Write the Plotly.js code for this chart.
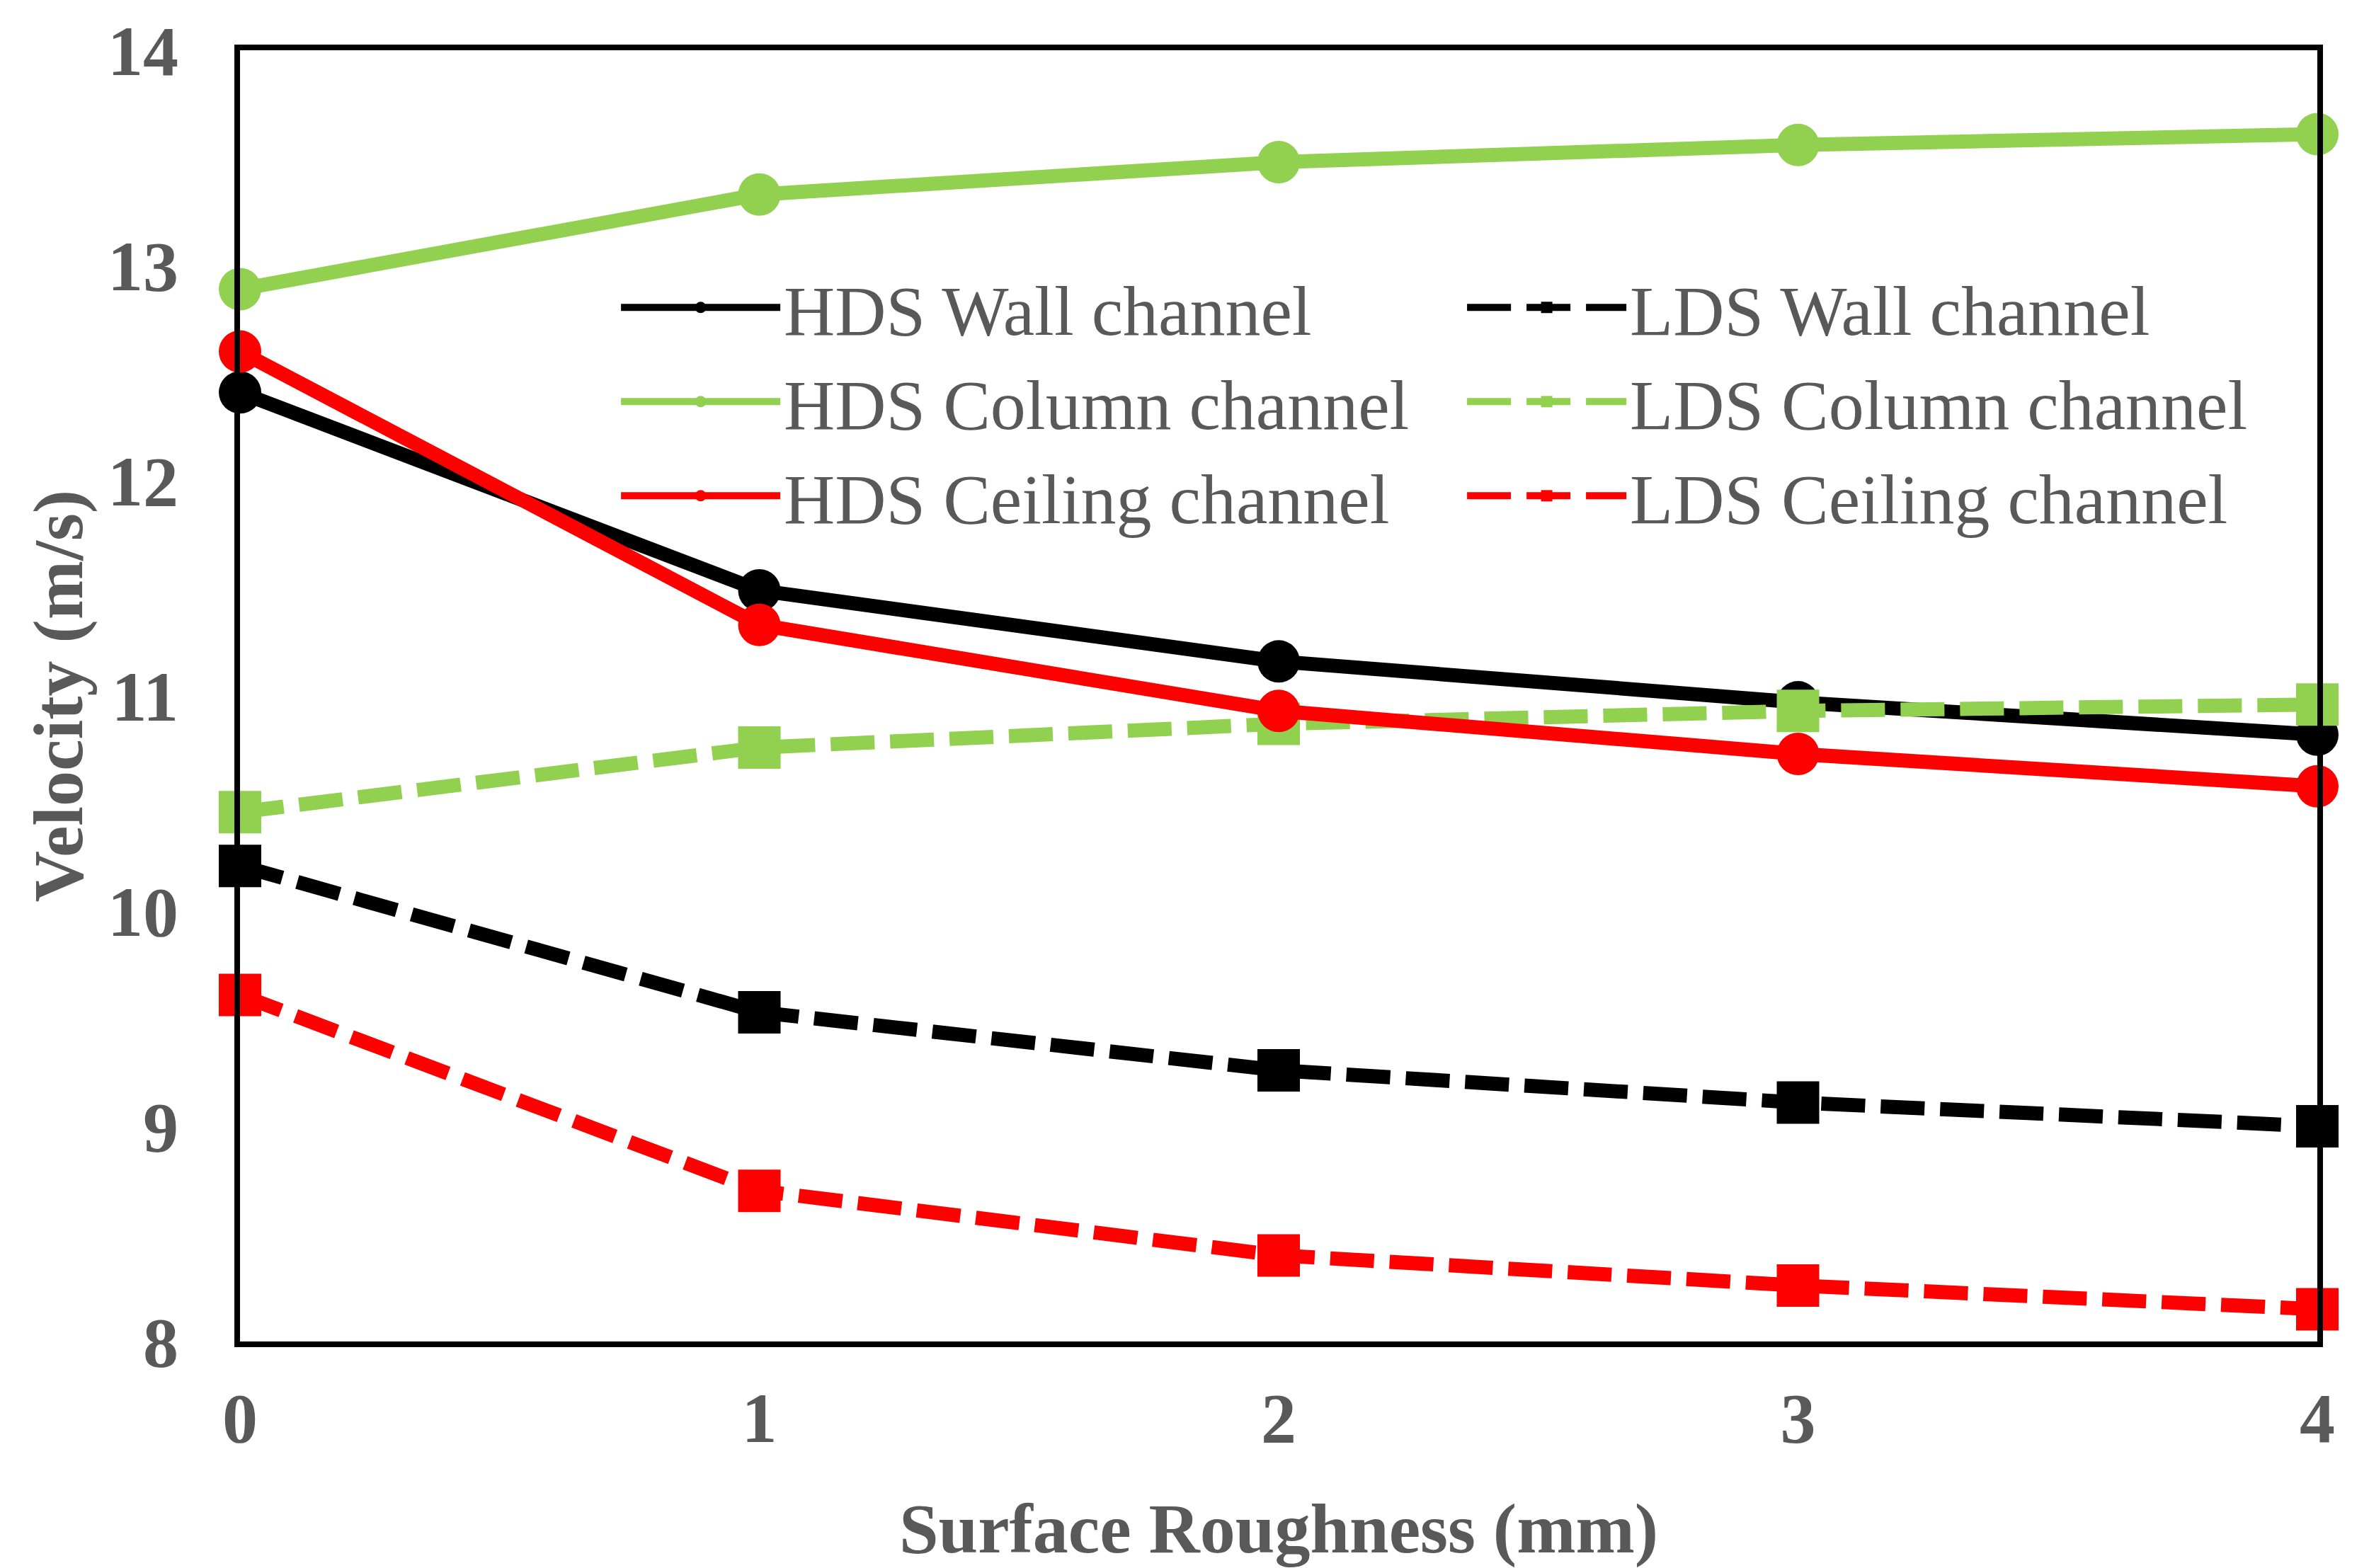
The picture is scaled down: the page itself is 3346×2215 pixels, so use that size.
<!DOCTYPE html>
<html>
<head>
<meta charset="utf-8">
<script src="https://cdn.plot.ly/plotly-3.0.1.min.js"></script>
<style>html,body{margin:0;padding:0;background:#fff;}#chart{width:3346px;height:2215px;}</style>
</head>
<body>
<div id="chart"></div>
<script>
const roughness = [0, 1, 2, 3, 4];
const hdsWall = [12.41, 11.49, 11.16, 10.97, 10.82];
const hdsColumn = [12.89, 13.33, 13.48, 13.56, 13.61];
const hdsCeiling = [12.60, 11.33, 10.93, 10.73, 10.58];
const ldsWall = [10.21, 9.53, 9.26, 9.11, 9.00];
const ldsColumn = [10.46, 10.76, 10.87, 10.93, 10.96];
const ldsCeiling = [9.61, 8.70, 8.40, 8.26, 8.15];
const seriesNames = ['HDS Wall channel', 'LDS Wall channel', 'HDS Column channel', 'LDS Column channel', 'HDS Ceiling channel', 'LDS Ceiling channel'];
const xTitle = 'Surface Roughness (mm)';
const yTitle = 'Velocity (m/s)';

const BLACK = '#000000', GREEN = '#92D050', RED = '#FF0000', GRAY = '#595959';
const FONT = 'Liberation Serif, Times New Roman, serif';

function solid(name, y, color) {
  return {x: roughness, y: y, name: name, type: 'scatter', mode: 'lines+markers', cliponaxis: false,
    line: {color: color, width: 20},
    marker: {symbol: 'circle', size: 60, color: color}};
}
function dashed(name, y, color) {
  return {x: roughness, y: y, name: name, type: 'scatter', mode: 'lines+markers', cliponaxis: false,
    line: {color: color, width: 20, dash: '62px,22px'},
    marker: {symbol: 'square', size: 60, color: color}};
}

const data = [
  solid(seriesNames[0], hdsWall, BLACK),
  dashed(seriesNames[1], ldsWall, BLACK),
  solid(seriesNames[2], hdsColumn, GREEN),
  dashed(seriesNames[3], ldsColumn, GREEN),
  solid(seriesNames[4], hdsCeiling, RED),
  dashed(seriesNames[5], ldsCeiling, RED)
];

const layout = {
  width: 3346, height: 2215,
  margin: {l: 339, r: 73, t: 71, b: 320},
  paper_bgcolor: '#fff', plot_bgcolor: '#fff',
  font: {family: FONT, color: GRAY, size: 100},
  showlegend: true,
  legend: {
    orientation: 'h', x: 0.1817, xanchor: 'left', y: 0.840, yanchor: 'top',
    itemwidth: 225, entrywidth: 955, entrywidthmode: 'pixels',
    font: {family: FONT, size: 100, color: GRAY},
    bgcolor: 'rgba(0,0,0,0)', tracegroupgap: 0
  },
  xaxis: {
    range: [0, 4], dtick: 1, tick0: 0, showgrid: false, zeroline: false,
    showline: true, mirror: true, linecolor: BLACK, linewidth: 8,
    ticks: '', ticklabelstandoff: 14,
    tickfont: {family: FONT, size: 100, color: GRAY, weight: 'bold'},
    title: {text: xTitle, standoff: 94, font: {family: FONT, size: 100, color: GRAY, weight: 'bold'}}
  },
  yaxis: {
    range: [8, 14], dtick: 1, tick0: 8, showgrid: false, zeroline: false,
    showline: true, mirror: true, linecolor: BLACK, linewidth: 8,
    ticks: '', ticklabelstandoff: 59,
    tickfont: {family: FONT, size: 100, color: GRAY, weight: 'bold'},
    title: {text: yTitle, standoff: 5, font: {family: FONT, size: 100, color: GRAY, weight: 'bold'}}
  }
};

Plotly.newPlot('chart', data, layout, {displayModeBar: false, staticPlot: true});
</script>
</body>
</html>
